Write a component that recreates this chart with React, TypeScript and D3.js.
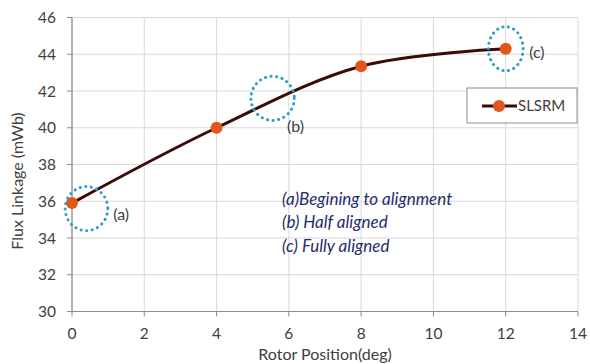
import React from "react";
import * as d3 from "d3";

const xValues = [0, 4, 8, 12];
const fluxValues = [35.9, 40.0, 43.35, 44.3];
const xTicks = [0, 2, 4, 6, 8, 10, 12, 14];
const yTicks = [30, 32, 34, 36, 38, 40, 42, 44, 46];
const circleLabels = ["(a)", "(b)", "(c)"];
const circleX = [0.4, 5.55, 12.0];
const circleY = [35.6, 41.6, 44.3];
const circleRx = [0.59, 0.6, 0.48];
const circleRy = [1.2, 1.2, 1.2];
const labelX = [1.14, 5.95, 12.65];
const labelY = [35.3, 40.05, 44.1];
const notes = ["(a)Begining to alignment", "(b) Half aligned", "(c) Fully aligned"];
const seriesName = "SLSRM";

const W = 590, H = 364;
const m = { left: 72, right: 12, top: 17.5, bottom: 52.5 };
const FONT = "Lato, 'Open Sans', sans-serif";

export default function App() {
  const x = d3.scaleLinear().domain([0, 14]).range([m.left, W - m.right]);
  const y = d3.scaleLinear().domain([30, 46]).range([H - m.bottom, m.top]);
  const pts: [number, number][] = xValues.map((v, i) => [v, fluxValues[i]]);
  const line = d3.line<[number, number]>().x(d => x(d[0])).y(d => y(d[1])).curve(d3.curveCatmullRom.alpha(0.5));
  const kx = x(1) - x(0);
  const ky = y(0) - y(1);

  return (
    <svg width={W} height={H} style={{ position: "absolute", left: 0, top: 0, background: "#fff" }}>
      {yTicks.map(t => (
        <line key={"gy" + t} x1={x(0)} x2={x(14)} y1={y(t)} y2={y(t)} stroke="#d9d9d9" strokeWidth={1} />
      ))}
      {xTicks.map(t => (
        <line key={"gx" + t} x1={x(t)} x2={x(t)} y1={y(30)} y2={y(46)} stroke="#d9d9d9" strokeWidth={1} />
      ))}
      <line x1={x(0)} x2={x(0)} y1={y(30)} y2={y(46)} stroke="#8c8c8c" strokeWidth={1.2} />
      <line x1={x(0)} x2={x(14)} y1={y(30)} y2={y(30)} stroke="#8c8c8c" strokeWidth={1.2} />
      {yTicks.map(t => (
        <g key={"ty" + t}>
          <line x1={x(0) - 5} x2={x(0)} y1={y(t)} y2={y(t)} stroke="#8c8c8c" />
          <text x={x(0) - 16} y={y(t)} dy="0.36em" textAnchor="end" fontSize={15.5} fill="#404040" fontFamily={FONT}>{t}</text>
        </g>
      ))}
      {xTicks.map(t => (
        <g key={"tx" + t}>
          <line x1={x(t)} x2={x(t)} y1={y(30)} y2={y(30) + 5} stroke="#8c8c8c" />
          <text x={x(t)} y={y(30) + 27} textAnchor="middle" fontSize={15.5} fill="#404040" fontFamily={FONT}>{t}</text>
        </g>
      ))}
      <text x={325} y={360} textAnchor="middle" fontSize={16} fill="#404040" fontFamily={FONT}>Rotor Position(deg)</text>
      <text transform={`translate(23,${(110 + 252) / 2}) rotate(-90)`} textAnchor="middle" fontSize={16} fill="#404040" fontFamily={FONT}>Flux Linkage (mWb)</text>

      <path d={line(pts) || ""} fill="none" stroke="#3d0a0a" strokeWidth={3} />
      {pts.map((p, i) => (
        <circle key={"p" + i} cx={x(p[0])} cy={y(p[1])} r={6} fill="#e0561b" />
      ))}

      {circleLabels.map((l, i) => (
        <g key={"c" + i}>
          <ellipse cx={x(circleX[i])} cy={y(circleY[i])} rx={kx * circleRx[i]} ry={ky * circleRy[i]} fill="none" stroke="#2a9ec3" strokeWidth={3} strokeDasharray="0.1 5.5" strokeLinecap="round" />
          <text x={x(labelX[i])} y={y(labelY[i])} dy="0.35em" fontSize={16} fill="#404040" fontFamily={FONT}>{l}</text>
        </g>
      ))}

      {notes.map((n, i) => (
        <text key={"n" + i} x={282} y={205 + i * 23.3} fontSize={17} fontStyle="italic" fill="#1f2d6b" fontFamily={FONT}>{n}</text>
      ))}

      <rect x={467} y={88} width={110} height={35} fill="#fff" stroke="#8c8c8c" strokeWidth={1} />
      <line x1={482} x2={517} y1={106} y2={106} stroke="#3d0a0a" strokeWidth={3} />
      <circle cx={499} cy={106} r={6} fill="#e0561b" />
      <text x={518} y={106} dy="0.36em" fontSize={15} fill="#404040" fontFamily={FONT}>{seriesName}</text>
    </svg>
  );
}
